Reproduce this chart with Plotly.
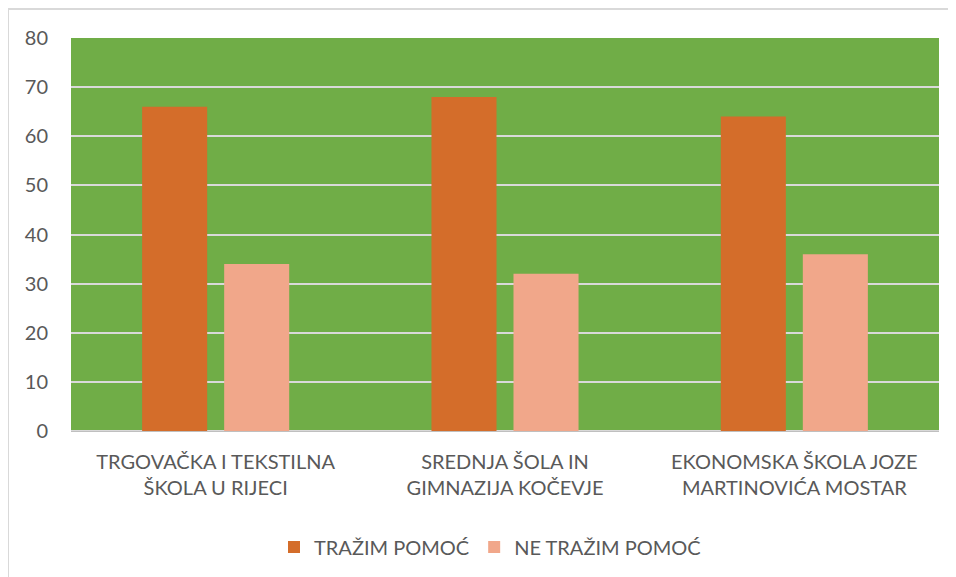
import plotly.graph_objects as go

categories = ["TRGOVAČKA I TEKSTILNA<br>ŠKOLA U RIJECI",
              "SREDNJA ŠOLA IN<br>GIMNAZIJA KOČEVJE",
              "EKONOMSKA ŠKOLA JOZE<br>MARTINOVIĆA MOSTAR"]
trazim = [66, 68, 64]
ne_trazim = [34, 32, 36]
series_names = ["TRAŽIM POMOĆ", "NE TRAŽIM POMOĆ"]

fig = go.Figure()
fig.add_trace(go.Bar(x=categories, y=trazim, name=series_names[0],
                     marker=dict(color="#D46D2A", line=dict(width=0))))
fig.add_trace(go.Bar(x=categories, y=ne_trazim, name=series_names[1],
                     marker=dict(color="#F1A78A", line=dict(width=0))))

OFF = 8  # page body margin
W, H = 956 - OFF, 577 - OFF
ml, mr, mt, mb = 71 - OFF, 17, 38 - OFF, 145
pw, ph = W - ml - mr, H - mt - mb

def px(x):
    return (x - OFF - ml) / pw

def py(y):
    return (H - mb - (y - OFF)) / ph

FONT = "Lato, Open Sans, sans-serif"

fig.update_layout(
    width=W, height=H,
    margin=dict(l=ml, r=mr, t=mt, b=mb, pad=0),
    paper_bgcolor="white",
    plot_bgcolor="#70AD47",
    barmode="group",
    bargap=0.433,
    bargroupgap=0.207,
    font=dict(family=FONT, size=20, color="#595959"),
    showlegend=True,
    legend=dict(orientation="h", x=px(490), xanchor="center", y=py(547), yanchor="middle",
                font=dict(size=20, color="#595959"), itemwidth=30,
                traceorder="normal"),
    xaxis=dict(showgrid=False, showline=True, linecolor="#BFBFBF", linewidth=1,
               ticks="", ticklabelstandoff=13, tickfont=dict(size=20, color="#595959")),
    yaxis=dict(range=[0, 80], dtick=10, showgrid=True, gridcolor="#D9D9D9", gridwidth=2,
               zeroline=True, zerolinecolor="#D9D9D9", zerolinewidth=2,
               showline=False, ticks="", ticklabelstandoff=22,
               tickfont=dict(size=20, color="#595959")),
    shapes=[
        dict(type="line", xref="paper", yref="paper", x0=px(8), x1=px(8),
             y0=py(9), y1=py(600), line=dict(color="#D9D9D9", width=2)),
        dict(type="line", xref="paper", yref="paper", x0=px(8), x1=px(970),
             y0=py(9), y1=py(9), line=dict(color="#D9D9D9", width=2)),
    ],
)

fig.write_html("out.html")
